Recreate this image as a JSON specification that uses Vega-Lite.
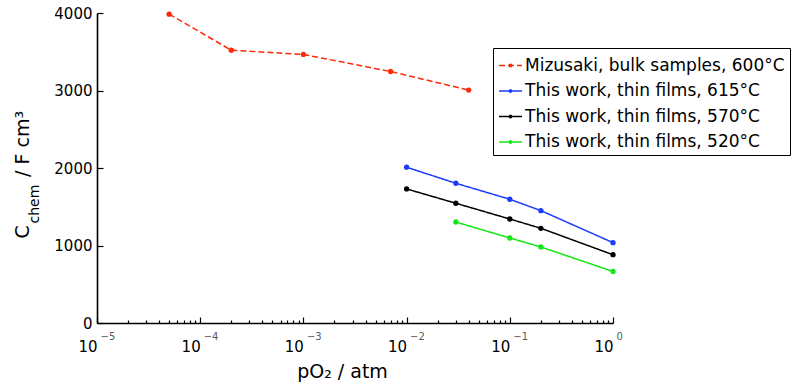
{
  "$schema": "https://vega.github.io/schema/vega-lite/v6.json",
  "width": 516,
  "height": 310,
  "autosize": {"type": "none"},
  "padding": {"left": 97, "top": 13, "right": 191, "bottom": 66},
  "background": "white",
  "data": {
    "values": [
      {"series": "Mizusaki, bulk samples, 600°C", "pO2": 0.00005, "C": 3985},
      {"series": "Mizusaki, bulk samples, 600°C", "pO2": 0.0002, "C": 3520},
      {"series": "Mizusaki, bulk samples, 600°C", "pO2": 0.001, "C": 3465},
      {"series": "Mizusaki, bulk samples, 600°C", "pO2": 0.007, "C": 3245},
      {"series": "Mizusaki, bulk samples, 600°C", "pO2": 0.04, "C": 3005},
      {"series": "This work, thin films, 615°C", "pO2": 0.01, "C": 2010},
      {"series": "This work, thin films, 615°C", "pO2": 0.03, "C": 1803},
      {"series": "This work, thin films, 615°C", "pO2": 0.1, "C": 1597},
      {"series": "This work, thin films, 615°C", "pO2": 0.2, "C": 1450},
      {"series": "This work, thin films, 615°C", "pO2": 1, "C": 1037},
      {"series": "This work, thin films, 570°C", "pO2": 0.01, "C": 1730},
      {"series": "This work, thin films, 570°C", "pO2": 0.03, "C": 1545},
      {"series": "This work, thin films, 570°C", "pO2": 0.1, "C": 1342},
      {"series": "This work, thin films, 570°C", "pO2": 0.2, "C": 1222},
      {"series": "This work, thin films, 570°C", "pO2": 1, "C": 881},
      {"series": "This work, thin films, 520°C", "pO2": 0.03, "C": 1303},
      {"series": "This work, thin films, 520°C", "pO2": 0.1, "C": 1097},
      {"series": "This work, thin films, 520°C", "pO2": 0.2, "C": 981},
      {"series": "This work, thin films, 520°C", "pO2": 1, "C": 665}
    ]
  },
  "resolve": {
    "scale": {"x": "shared", "y": "shared"},
    "axis": {"x": "independent", "y": "independent"}
  },
  "layer": [
    {
      "mark": {"type": "line", "strokeWidth": 1.5, "point": {"filled": true, "size": 28}},
      "encoding": {
        "x": {
          "field": "pO2",
          "type": "quantitative",
          "scale": {"type": "log", "domain": [0.00001, 1], "nice": false},
          "axis": {
            "orient": "bottom",
            "values": [0.00001, 0.00002, 0.00003, 0.00004, 0.00005, 0.00006, 0.00007, 0.00008, 0.00009,
                       0.0001, 0.0002, 0.0003, 0.0004, 0.0005, 0.0006, 0.0007, 0.0008, 0.0009,
                       0.001, 0.002, 0.003, 0.004, 0.005, 0.006, 0.007, 0.008, 0.009,
                       0.01, 0.02, 0.03, 0.04, 0.05, 0.06, 0.07, 0.08, 0.09,
                       0.1, 0.2, 0.3, 0.4, 0.5, 0.6, 0.7, 0.8, 0.9, 1],
            "labelExpr": "abs(log(datum.value)/LN10 - round(log(datum.value)/LN10)) < 0.000001 ? '10' : ''",
            "tickSize": {"condition": {"test": "abs(log(datum.value)/LN10 - round(log(datum.value)/LN10)) < 0.000001", "value": -6}, "value": -3},
            "labelAlign": "right",
            "labelFontSize": 15,
            "labelPadding": 22,
            "labelFlush": false,
            "labelOverlap": false,
            "title": "pO₂ / atm",
            "titleFontSize": 19,
            "titleX": 245,
            "titleY": 39,
            "titleBaseline": "top"
          }
        },
        "y": {
          "field": "C",
          "type": "quantitative",
          "scale": {"domain": [0, 4000], "nice": false},
          "axis": {
            "orient": "left",
            "values": [0, 1000, 2000, 3000, 4000],
            "format": "d",
            "tickSize": -6,
            "labelPadding": 11,
            "labelFontSize": 15,
            "title": "C\u00a0\u00a0\u00a0\u00a0\u00a0\u00a0\u00a0\u00a0/ F cm³",
            "titleFontSize": 19,
            "titleAngle": 270,
            "titleAlign": "left",
            "titleBaseline": "alphabetic",
            "titleX": -69,
            "titleY": 225
          }
        },
        "color": {
          "field": "series",
          "type": "nominal",
          "scale": {
            "domain": ["Mizusaki, bulk samples, 600°C", "This work, thin films, 615°C", "This work, thin films, 570°C", "This work, thin films, 520°C"],
            "range": ["#ff2a0a", "#1a3cff", "#000000", "#14e614"]
          },
          "legend": {
            "title": null,
            "orient": "none",
            "legendX": 396,
            "legendY": 35,
            "symbolType": "M-1,0H1M-0.1,0A0.1,0.1 0 1,1 0.1,0A0.1,0.1 0 1,1 -0.1,0Z",
            "symbolSize": 529,
            "symbolStrokeWidth": 1.5,
            "labelFontSize": 17,
            "labelOffset": 2,
            "labelColor": "black",
            "labelLimit": 400,
            "labelExpr": "datum.label + '\u00a0\u00a0\u00a0'",
            "rowPadding": 4.5,
            "padding": 5,
            "strokeColor": "black",
            "fillColor": "white"
          }
        },
        "strokeDash": {
          "field": "series",
          "type": "nominal",
          "scale": {
            "domain": ["Mizusaki, bulk samples, 600°C", "This work, thin films, 615°C", "This work, thin films, 570°C", "This work, thin films, 520°C"],
            "range": [[6, 3], [1, 0], [1, 0], [1, 0]]
          },
          "legend": {
            "title": null,
            "orient": "none",
            "legendX": 396,
            "legendY": 35,
            "symbolType": "M-1,0H1M-0.1,0A0.1,0.1 0 1,1 0.1,0A0.1,0.1 0 1,1 -0.1,0Z",
            "symbolSize": 529,
            "symbolStrokeWidth": 1.5,
            "labelFontSize": 17,
            "labelOffset": 2,
            "labelColor": "black",
            "labelLimit": 400,
            "labelExpr": "datum.label + '\u00a0\u00a0\u00a0'",
            "rowPadding": 4.5,
            "padding": 5,
            "strokeColor": "black",
            "fillColor": "white"
          }
        }
      }
    },
    {
      "mark": {"type": "point", "opacity": 0},
      "encoding": {
        "x": {
          "field": "pO2",
          "type": "quantitative",
          "axis": {
            "orient": "bottom",
            "values": [0.00001, 0.0001, 0.001, 0.01, 0.1, 1],
            "labelExpr": "datum.value >= 1 ? '0' : '−' + round(-log(datum.value)/LN10)",
            "ticks": false,
            "domain": false,
            "labelAlign": "left",
            "labelOffset": 3,
            "labelFontSize": 10,
            "labelColor": "#5a5a5a",
            "labelPadding": 8,
            "labelFlush": false,
            "labelOverlap": false,
            "title": null
          }
        },
        "y": {
          "field": "C",
          "type": "quantitative",
          "axis": {
            "orient": "left",
            "labels": false,
            "ticks": false,
            "domain": false,
            "title": "chem",
            "titleFontSize": 14,
            "titleAngle": 270,
            "titleAlign": "left",
            "titleBaseline": "alphabetic",
            "titleX": -59,
            "titleY": 210
          }
        }
      }
    }
  ],
  "config": {
    "font": "DejaVu Sans",
    "view": {"stroke": null},
    "axis": {
      "grid": false,
      "domainColor": "black",
      "domainWidth": 1.6,
      "tickColor": "black",
      "tickWidth": 1.2,
      "labelColor": "black",
      "titleColor": "black",
      "titleFontWeight": "normal",
      "titleFont": "DejaVu Sans",
      "labelFont": "DejaVu Sans"
    },
    "legend": {"labelFont": "DejaVu Sans"}
  }
}
